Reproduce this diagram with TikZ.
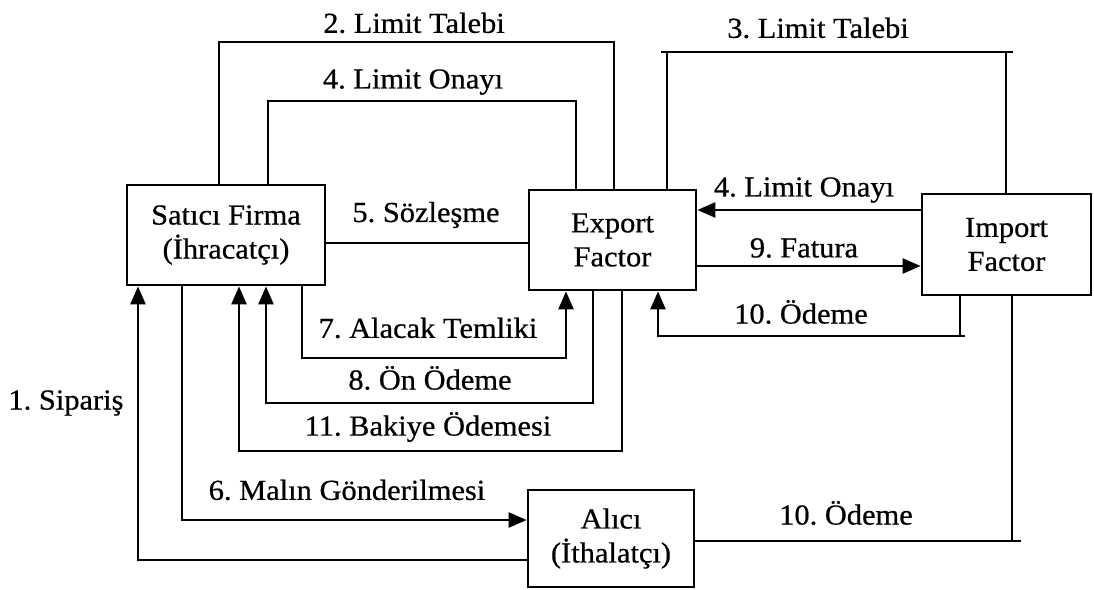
\documentclass[tikz,border=0pt]{standalone}
\usepackage{fontspec}
\setmainfont{Liberation Serif}[FakeStretch=1.05,FakeBold=0.6]
\usetikzlibrary{arrows.meta}
\frenchspacing
\begin{document}
\begin{tikzpicture}[x=1pt,y=-1pt,
  txt/.style={font=\fontsize{29}{34}\selectfont\frenchspacing, inner sep=0pt, align=center},
  box/.style={txt, draw, line width=2.8pt, rectangle},
  conn/.style={line width=2.6pt},
  arr/.style={conn, -{Triangle[length=18pt,width=15pt]}},
  lbl/.style={txt}]
\useasboundingbox (0,0) rectangle (1094,589);

% boxes
\node[box, minimum width=198pt, minimum height=100pt] (sat) at (226,235) {Satıcı Firma\\(İhracatçı)};
\node[box, minimum width=167pt, minimum height=100pt] (exp) at (612.5,240) {Export\\Factor};
\node[box, minimum width=169pt, minimum height=101pt] (imp) at (1006.5,244.5) {Import\\Factor};
\node[box, minimum width=166pt, minimum height=97pt] (alici) at (611,538.5) {Alıcı\\(İthalatçı)};

% top connectors
\draw[conn] (sat.north -| 219,0) -- (219,42) -| (exp.north -| 614,0);
\draw[conn] (sat.north -| 268,0) -- (268,101) -| (exp.north -| 576,0);
\draw[conn] (exp.north -| 667,0) -- (667,52) -| (imp.north -| 1006,0);
\draw[conn] (661,52) -- (667,52) (1006,52) -- (1013,52);

% middle
\draw[conn] (sat.east |- 0,243) -- (exp.west |- 0,243);
\draw[arr] (imp.west |- 0,210) -- (exp.east |- 0,210);
\draw[arr] (exp.east |- 0,266) -- (imp.west |- 0,266);
\draw[arr] (imp.south -| 960,0) -- (960,336) -| (exp.south -| 658,0);
\draw[conn] (960,336) -- (965,336);

% lower
\draw[arr] (sat.south -| 302,0) -- (302,358) -| (exp.south -| 566,0);
\draw[arr] (exp.south -| 593,0) -- (593,403) -| (sat.south -| 266,0);
\draw[arr] (exp.south -| 622,0) -- (622,451) -| (sat.south -| 239,0);
\draw[arr] (sat.south -| 182,0) |- (alici.west |- 0,520);
\draw[arr] (alici.west |- 0,560) -| (sat.south -| 138,0);
\draw[conn] (imp.south -| 1012,0) |- (alici.east |- 0,541);
\draw[conn] (1012,541) -- (1021,541);

% labels
\node[lbl] (l2) at (414,23) {2. Limit Talebi};
\node[lbl] (l4a) at (413,82) {4. Limit Onayı};
\node[lbl] (l3) at (818,28) {3. Limit Talebi};
\node[lbl] (l5) at (426,215) {5. Sözleşme};
\node[lbl] (l4b) at (804,190) {4. Limit Onayı};
\node[lbl] (l9) at (804,248) {9. Fatura};
\node[lbl] (l10a) at (801,312) {10. Ödeme};
\node[lbl] (l10b) at (846,513) {10. Ödeme};
\node[lbl] (l7) at (428,328) {7. Alacak Temliki};
\node[lbl] (l8) at (430,378) {8. Ön Ödeme};
\node[lbl] (l11) at (428,427) {11. Bakiye Ödemesi};
\node[lbl] (l6) at (347,490) {6. Malın Gönderilmesi};
\node[lbl] (l1) at (66,403) {1. Sipariş};
\end{tikzpicture}
\end{document}
